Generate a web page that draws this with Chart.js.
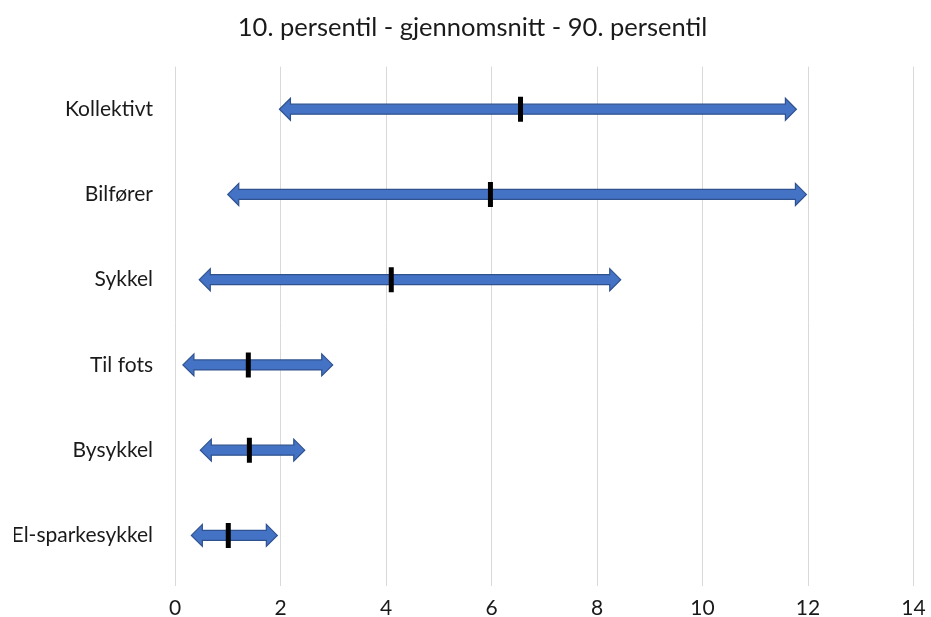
<!DOCTYPE html>
<html>
<head>
<meta charset="utf-8">
<script src="https://cdn.jsdelivr.net/npm/chart.js@4/dist/chart.umd.min.js"></script>
<style>
  html, body { margin: 0; padding: 0; background: #fff; }
  #wrap { width: 931px; height: 617px; }
</style>
</head>
<body>
<div id="wrap"><canvas id="myChart"></canvas></div>
<script>
const categories = ['Kollektivt', 'Bilfører', 'Sykkel', 'Til fots', 'Bysykkel', 'El-sparkesykkel']
const p10 = [1.98, 1.0, 0.46, 0.15, 0.48, 0.31]
const p90 = [11.78, 11.97, 8.45, 2.99, 2.46, 1.94]
const mean = [6.55, 5.98, 4.1, 1.39, 1.41, 1.01]
const xTicks = [0, 2, 4, 6, 8, 10, 12, 14]

const fontName = 'Lato, "Open Sans", sans-serif'

// draws the p10-p90 range as a double arrow instead of a bar
const arrowPlugin = {
  id: 'arrows',
  afterDatasetDraw(chart, args) {
    if (args.index !== 1) return
    const ctx = chart.ctx
    const shaft = 5, head = 11, headLen = 11
    args.meta.data.forEach(bar => {
      const x1 = Math.min(bar.base, bar.x)
      const x2 = Math.max(bar.base, bar.x)
      const y = bar.y
      ctx.save()
      ctx.beginPath()
      ctx.moveTo(x1, y)
      ctx.lineTo(x1 + headLen, y - head)
      ctx.lineTo(x1 + headLen, y - shaft)
      ctx.lineTo(x2 - headLen, y - shaft)
      ctx.lineTo(x2 - headLen, y - head)
      ctx.lineTo(x2, y)
      ctx.lineTo(x2 - headLen, y + head)
      ctx.lineTo(x2 - headLen, y + shaft)
      ctx.lineTo(x1 + headLen, y + shaft)
      ctx.lineTo(x1 + headLen, y + head)
      ctx.closePath()
      ctx.fillStyle = '#4472C4'
      ctx.fill()
      ctx.lineWidth = 1.2
      ctx.strokeStyle = '#2F528F'
      ctx.stroke()
      ctx.restore()
    })
  }
}

new Chart(document.getElementById('myChart'), {
  type: 'bar',
  data: {
    labels: categories,
    datasets: [
      {
        type: 'line',
        label: 'Gjennomsnitt',
        data: mean,
        showLine: false,
        pointStyle: 'line',
        rotation: 90,
        pointRadius: 12.5,
        pointHoverRadius: 12.5,
        pointBorderWidth: 5,
        pointHoverBorderWidth: 5,
        borderColor: '#000',
        backgroundColor: '#000',
        order: 0
      },
      {
        label: '10.-90. persentil',
        data: categories.map((c, i) => [p10[i], p90[i]]),
        backgroundColor: 'rgba(0,0,0,0)',
        borderWidth: 0,
        barThickness: 22,
        order: 1
      }
    ]
  },
  options: {
    indexAxis: 'y',
    responsive: true,
    maintainAspectRatio: false,
    animation: false,
    layout: { padding: { left: 14, right: 0, top: 0, bottom: 0 } },
    plugins: {
      legend: { display: false },
      tooltip: { enabled: false },
      title: {
        display: true,
        text: '10. persentil - gjennomsnitt - 90. persentil',
        color: '#1a1a1a',
        font: { family: fontName, size: 25.5, weight: 'normal' },
        padding: { top: 12, bottom: 24 }
      }
    },
    scales: {
      x: {
        min: 0,
        max: 14,
        afterBuildTicks: scale => { scale.ticks = xTicks.map(v => ({ value: v })) },
        afterFit: scale => {
          scale.height = 39
          scale.paddingRight = 13
        },
        grid: { color: '#d9d9d9', lineWidth: 1, tickLength: 8, tickColor: '#d9d9d9' },
        border: { display: false },
        ticks: {
          color: '#1a1a1a',
          padding: 10,
          maxRotation: 0,
          font: { family: fontName, size: 21 }
        }
      },
      y: {
        grid: { display: false },
        border: { display: false },
        afterFit: scale => { scale.width = 161 },
        ticks: {
          color: '#1a1a1a',
          padding: 14,
          font: { family: fontName, size: 21 }
        }
      }
    }
  },
  plugins: [arrowPlugin]
})
</script>
</body>
</html>
